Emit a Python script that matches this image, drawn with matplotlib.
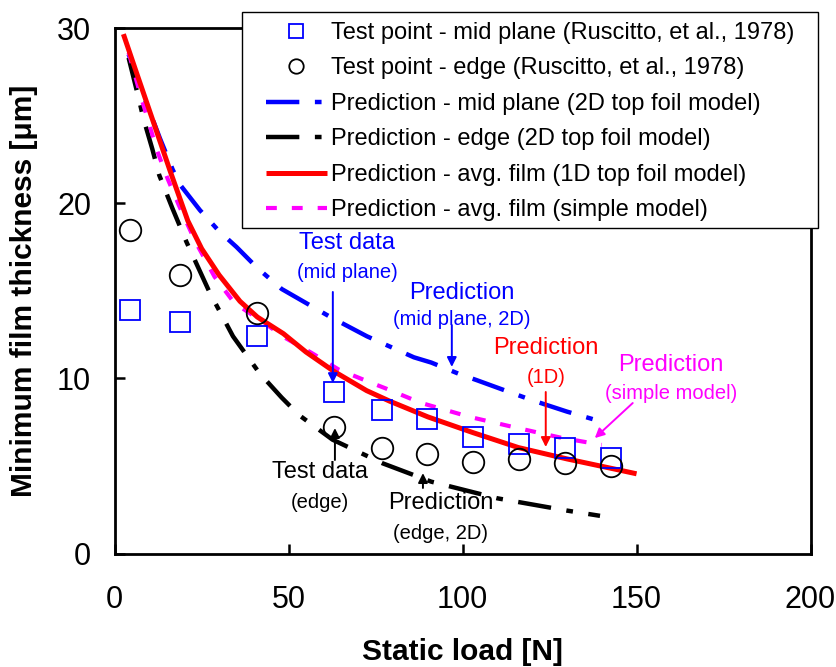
import matplotlib
matplotlib.use("Agg")
import matplotlib.pyplot as plt
from matplotlib.patches import Rectangle

plt.rcParams['font.family'] = ['Liberation Sans', 'DejaVu Sans']

# ---------------- data ----------------
test_load = [4.3, 18.9, 41.0, 63.1, 76.9, 89.8, 103.0, 116.2, 129.4, 142.6]
test_mid = [13.9, 13.2, 12.4, 9.2, 8.2, 7.7, 6.65, 6.25, 6.0, 5.45]
test_edge = [18.45, 15.9, 13.75, 7.2, 6.05, 5.7, 5.25, 5.4, 5.15, 5.0]

mid2d_x = [4, 7, 10.7, 13, 16.7, 19, 24.5, 30, 35, 41, 48, 55, 62, 72.5, 77, 86, 91, 99, 104, 113, 120, 130, 139.5]
mid2d_y = [28.5, 26.8, 24.9, 23.7, 21.9, 21.0, 19.6, 18.4, 17.5, 16.3, 15.1, 14.3, 13.5, 12.4, 12.0, 11.2, 10.9, 10.25, 9.9, 9.25, 8.75, 8.1, 7.55]

edge2d_x = [4, 7, 8.3, 10.8, 12.8, 16.6, 20.6, 27.3, 34, 41.6, 48, 53, 62.6, 77, 91, 100, 110, 120, 130, 139.5]
edge2d_y = [28.3, 25.9, 24.8, 23.1, 21.6, 19.7, 17.8, 14.9, 12.4, 10.3, 8.9, 7.9, 6.5, 5.15, 4.1, 3.65, 3.15, 2.8, 2.45, 2.15]

avg1d_x = [2.5, 6, 11, 16, 21, 25, 30, 36, 41, 48.5, 55, 63, 72.4, 79, 90, 103, 116, 130, 143, 150]
avg1d_y = [29.65, 27.6, 24.7, 21.8, 19.0, 17.4, 15.9, 14.4, 13.5, 12.55, 11.5, 10.4, 9.3, 8.7, 7.8, 6.9, 6.05, 5.4, 4.85, 4.55]

simple_x = [4, 5, 7.5, 9.8, 12, 15.2, 18.4, 23.2, 28.7, 34.4, 42, 49.1, 56.6, 64.4, 72.4, 78.2, 88, 102, 115, 128.5, 140]
simple_y = [28.6, 27.9, 26.1, 24.6, 23.1, 21.4, 19.9, 17.8, 15.8, 14.3, 13.3, 12.3, 11.45, 10.5, 9.85, 9.4, 8.6, 7.8, 7.2, 6.6, 6.2]

legend_labels = [
    "Test point - mid plane (Ruscitto, et al., 1978)",
    "Test point - edge (Ruscitto, et al., 1978)",
    "Prediction - mid plane (2D top foil model)",
    "Prediction - edge (2D top foil model)",
    "Prediction - avg. film (1D top foil model)",
    "Prediction - avg. film (simple model)",
]

xticks = [0, 50, 100, 150, 200]
yticks = [0, 10, 20, 30]

# ---------------- figure ----------------
W, H = 836, 667
fig = plt.figure(figsize=(W / 100, H / 100), dpi=100)
ax = fig.add_axes([114.7 / W, 1 - 553.5 / H, (810.5 - 114.7) / W, (553.5 - 28) / H])

BLUE = '#0000FF'
RED = '#FF0000'
MAG = '#FF00FF'
dashdot = (0, (7.5, 3.5, 1.5, 3.5))

h1, = ax.plot(test_load, test_mid, linestyle='none', marker='s', markersize=15,
              markerfacecolor='none', markeredgecolor=BLUE, markeredgewidth=1.3, zorder=5)
h2, = ax.plot(test_load, test_edge, linestyle='none', marker='o', markersize=15.5,
              markerfacecolor='none', markeredgecolor='black', markeredgewidth=1.3, zorder=5)
h3, = ax.plot(mid2d_x, mid2d_y, color=BLUE, lw=3.2, linestyle=dashdot, dash_capstyle='butt', zorder=3)
h4, = ax.plot(edge2d_x, edge2d_y, color='black', lw=3.2, linestyle=dashdot, dash_capstyle='butt', zorder=3)
h5, = ax.plot(avg1d_x, avg1d_y, color=RED, lw=3.6, solid_capstyle='butt', zorder=4)
h6, = ax.plot(simple_x, simple_y, color=MAG, lw=3.0, linestyle=(0, (2.6, 3.6)), dash_capstyle='butt', zorder=3)

ax.set_xlim(xticks[0], xticks[-1])
ax.set_ylim(yticks[0], yticks[-1])
ax.set_xticks(xticks)
ax.set_yticks(yticks)
ax.tick_params(axis='both', direction='in', length=7.5, width=1.8, labelsize=22)
ax.tick_params(axis='x', pad=23)
ax.tick_params(axis='y', pad=17)
for s in ax.spines.values():
    s.set_linewidth(2.0)

ax.set_xlabel("Static load [N]", fontsize=21.5, fontweight='bold', labelpad=16)
ax.set_ylabel("Minimum film thickness [μm]", fontsize=21.5, fontweight='bold', labelpad=14)

# ---------------- annotations ----------------
def note(x, y, big, small, color, sy):
    ax.text(x, y, big, color=color, fontsize=17, ha='center', va='center', zorder=6)
    ax.text(x, y - sy, small, color=color, fontsize=14.5, ha='center', va='center', zorder=6)

def arrow(x0, y0, x1, y1, color):
    ax.annotate('', xy=(x1, y1), xytext=(x0, y0),
                arrowprops=dict(arrowstyle='-|>', color=color, lw=1.4, mutation_scale=14,
                                shrinkA=0, shrinkB=0), zorder=6)

note(66.8, 17.72, "Test data", "(mid plane)", BLUE, 1.65)
arrow(62.7, 14.93, 62.7, 9.73, BLUE)
note(99.8, 14.87, "Prediction", "(mid plane, 2D)", BLUE, 1.49)
arrow(96.9, 13.04, 96.9, 10.65, BLUE)
note(123.9, 11.73, "Prediction", "(1D)", RED, 1.66)
arrow(123.9, 9.22, 123.9, 6.08, RED)
note(159.8, 10.76, "Prediction", "(simple model)", MAG, 1.6)
arrow(148.9, 8.59, 138.0, 6.59, MAG)
note(59.0, 4.65, "Test data", "(edge)", 'black', 1.71)
arrow(63.3, 5.34, 63.3, 7.16, 'black')
note(93.7, 2.88, "Prediction", "(edge, 2D)", 'black', 1.71)
arrow(88.6, 3.74, 88.6, 4.59, 'black')

# ---------------- legend ----------------
fig.add_artist(Rectangle((242 / W, 1 - 228 / H), (818 - 242) / W, (228 - 12) / H,
                         transform=fig.transFigure, facecolor='white', edgecolor='black',
                         lw=1.0, zorder=1))
leg = fig.legend([h1, h2, h3, h4, h5, h6], legend_labels, loc='upper left',
                 bbox_to_anchor=(266 / W, 1 - 22 / H), frameon=False, borderpad=0,
                 borderaxespad=0, fontsize=17, handlelength=2.58, handletextpad=0.17,
                 labelspacing=0.57, markerscale=0.67)
leg.set_zorder(2)

fig.savefig("out.png", dpi=100)
